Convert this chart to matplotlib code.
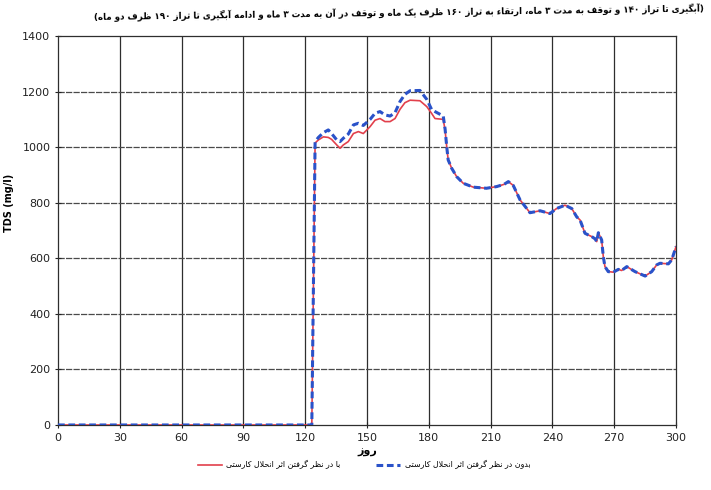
import re
import matplotlib
matplotlib.use("Agg")
import matplotlib.pyplot as plt

# ---------------------------------------------------------------- data
days = [0, 123.2, 124.8, 126.4, 128.8, 131.2, 132.8, 135.3, 136.9, 138.5,
        140.9, 143.4, 145.8, 148.2, 151.5, 153.9, 156.3, 158.7, 161.2, 163.6,
        166.0, 168.4, 170.9, 175.7, 179.0, 181.4, 183.0, 187.0, 187.9, 188.7,
        189.4, 191.1, 193.5, 196.7, 201.6, 208.0, 212.9, 216.5, 218.6, 221.0,
        224.3, 229.1, 234.0, 238.8, 242.0, 246.1, 249.4, 251.8, 253.4, 255.8,
        257.4, 259.1, 260.7, 261.5, 262.3, 263.9, 264.7, 265.5, 267.1, 269.6,
        272.0, 273.6, 276.1, 280.1, 285.0, 288.2, 290.6, 292.2, 296.3, 297.9,
        299.5, 300.0]

tds_with_karst = [0, 0, 1015, 1026, 1037, 1035, 1028, 1008, 996, 1008,
                  1020, 1049, 1056, 1049, 1074, 1097, 1103, 1092, 1092, 1103,
                  1136, 1160, 1169, 1167, 1146, 1121, 1103, 1100, 1061, 1001,
                  954, 924, 894, 870, 856, 852, 858, 866, 876, 862,
                  810, 764, 771, 761, 779, 791, 779, 749, 738, 690,
                  684, 678, 670, 660, 692, 666, 606, 570, 552, 550,
                  560, 556, 570, 552, 536, 552, 576, 582, 580, 594,
                  630, 642]

tds_without_karst = [0, 0, 1020, 1035, 1052, 1062, 1049, 1026, 1020, 1032,
                     1047, 1080, 1086, 1078, 1100, 1122, 1128, 1116, 1112, 1124,
                     1164, 1190, 1203, 1204, 1172, 1135, 1128, 1112, 1065, 1001,
                     954, 924, 894, 870, 856, 852, 858, 866, 876, 862,
                     810, 764, 771, 761, 779, 791, 779, 749, 738, 690,
                     684, 678, 670, 660, 692, 666, 606, 570, 552, 550,
                     560, 556, 570, 552, 536, 552, 576, 582, 580, 594,
                     630, 642]

x_ticks = [0, 30, 60, 90, 120, 150, 180, 210, 240, 270, 300]
y_ticks = [0, 200, 400, 600, 800, 1000, 1200, 1400]

title_text = ("(آبگیری تا تراز ۱۴۰ و توقف به مدت ۳ ماه، ارتقاء به تراز ۱۶۰ ظرف یک ماه "
              "و توقف در آن به مدت ۳ ماه و ادامه آبگیری تا تراز ۱۹۰ ظرف دو ماه)")
label_with = "با در نظر گرفتن اثر انحلال کارستی"
label_without = "بدون در نظر گرفتن اثر انحلال کارستی"
x_label = "روز"
y_label = "TDS (mg/l)"

# ------------------------------------------------- Persian text shaping
# (isolated, final, initial, medial); None => letter does not join forward
FORMS = {
    "ا": ("\uFE8D", "\uFE8E", None, None),
    "آ": ("\uFE81", "\uFE82", None, None),
    "ب": ("\uFE8F", "\uFE90", "\uFE91", "\uFE92"),
    "ت": ("\uFE95", "\uFE96", "\uFE97", "\uFE98"),
    "ث": ("\uFE99", "\uFE9A", "\uFE9B", "\uFE9C"),
    "ح": ("\uFEA1", "\uFEA2", "\uFEA3", "\uFEA4"),
    "د": ("\uFEA9", "\uFEAA", None, None),
    "ر": ("\uFEAD", "\uFEAE", None, None),
    "ز": ("\uFEAF", "\uFEB0", None, None),
    "س": ("\uFEB1", "\uFEB2", "\uFEB3", "\uFEB4"),
    "ظ": ("\uFEC5", "\uFEC6", "\uFEC7", "\uFEC8"),
    "ف": ("\uFED1", "\uFED2", "\uFED3", "\uFED4"),
    "ق": ("\uFED5", "\uFED6", "\uFED7", "\uFED8"),
    "ل": ("\uFEDD", "\uFEDE", "\uFEDF", "\uFEE0"),
    "م": ("\uFEE1", "\uFEE2", "\uFEE3", "\uFEE4"),
    "ن": ("\uFEE5", "\uFEE6", "\uFEE7", "\uFEE8"),
    "ه": ("\uFEE9", "\uFEEA", "\uFEEB", "\uFEEC"),
    "و": ("\uFEED", "\uFEEE", None, None),
    "ک": ("\uFB8E", "\uFB8F", "\uFB90", "\uFB91"),
    "گ": ("\uFB92", "\uFB93", "\uFB94", "\uFB95"),
    "ی": ("\uFBFC", "\uFBFD", "\uFBFE", "\uFBFF"),
}
LAM_ALEF = {"ا": ("\uFEFB", "\uFEFC"), "آ": ("\uFEF5", "\uFEF6")}


def joins_forward(ch):
    return ch in FORMS and FORMS[ch][2] is not None


def shape_rtl(text):
    out = []
    i = 0
    n = len(text)
    while i < n:
        ch = text[i]
        prev = text[i - 1] if i > 0 else ""
        joined_prev = joins_forward(prev) and ch in FORMS
        if ch == "ل" and i + 1 < n and text[i + 1] in LAM_ALEF:
            out.append(LAM_ALEF[text[i + 1]][1 if joined_prev else 0])
            i += 2
            continue
        if ch in FORMS:
            nxt = text[i + 1] if i + 1 < n else ""
            joined_next = joins_forward(ch) and nxt in FORMS
            iso, fin, ini, med = FORMS[ch]
            if joined_prev and joined_next:
                out.append(med)
            elif joined_prev:
                out.append(fin)
            elif joined_next:
                out.append(ini)
            else:
                out.append(iso)
        else:
            out.append(ch)
        i += 1
    visual = "".join(reversed(out))
    visual = re.sub(r"[۰-۹0-9]+", lambda m: m.group()[::-1], visual)
    return visual.translate(str.maketrans("()", ")("))


# ---------------------------------------------------------------- figure
plt.rcParams["font.family"] = ["DejaVu Sans"]

fig = plt.figure(figsize=(7.11, 4.90), dpi=100)
ax = fig.add_axes([0.0816, 0.1327, 0.8692, 0.7938])

ax.plot(days, tds_with_karst, color="#e2404c", lw=1.2, zorder=3,
        label=shape_rtl(label_with))
ax.plot(days, tds_without_karst, color="#2a52c9", lw=2.2, zorder=4,
        linestyle=(0, (2.2, 1.2)), label=shape_rtl(label_without))

ax.set_xlim(0, 300)
ax.set_ylim(0, 1400)
ax.set_xticks(x_ticks)
ax.set_yticks(y_ticks)
ax.tick_params(axis="both", labelsize=8, colors="#222222", length=4,
               width=0.8, direction="inout")

for x in x_ticks[1:-1]:
    ax.axvline(x, color="#2e2e2e", lw=0.9, zorder=1)
for y in y_ticks[1:-1]:
    ax.axhline(y, color="#4a4a4a", lw=0.9, linestyle=(0, (5, 1)), zorder=1)

for side in ax.spines.values():
    side.set_color("#2e2e2e")
    side.set_linewidth(0.9)

ax.set_xlabel(shape_rtl(x_label), fontsize=8, fontweight="bold", labelpad=3)
ax.set_ylabel(y_label, fontsize=7, fontweight="bold")
ax.yaxis.set_label_coords(-0.072, 0.57)

fig.text(0.561, 0.974, shape_rtl(title_text), ha="center", va="center",
         fontsize=6.35, fontweight="bold", rotation=0.8)

fig.legend(loc="center", bbox_to_anchor=(0.512, 0.051), ncol=2,
           frameon=False, fontsize=5.7, handlelength=3.0,
           columnspacing=4.5, handletextpad=0.6)

fig.savefig("out.png", dpi=100, facecolor="white")
